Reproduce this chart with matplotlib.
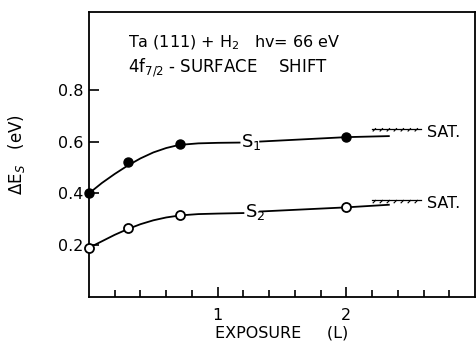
import numpy as np
import matplotlib
matplotlib.use('Agg')
import matplotlib.pyplot as plt
import matplotlib.patheffects as pe

# measured points
x_pts = [0.0, 0.30, 0.71, 2.0]
s1_pts = [0.40, 0.52, 0.59, 0.617]
s2_pts = [0.19, 0.265, 0.315, 0.346]

# hand-drawn guide lines (left part, right part around the label)
s1_cx_a = [0.0, 0.1, 0.2, 0.3, 0.4, 0.5, 0.6, 0.7, 0.85, 1.0, 1.17]
s1_cy_a = [0.40, 0.44, 0.475, 0.507, 0.535, 0.558, 0.575, 0.587, 0.593, 0.595, 0.596]
s1_cx_b = [1.33, 2.0, 2.33]
s1_cy_b = [0.600, 0.617, 0.621]

s2_cx_a = [0.0, 0.1, 0.2, 0.3, 0.4, 0.5, 0.6, 0.71, 0.85, 1.0, 1.2]
s2_cy_a = [0.19, 0.215, 0.24, 0.262, 0.281, 0.296, 0.307, 0.315, 0.320, 0.322, 0.324]
s2_cx_b = [1.33, 2.0, 2.33]
s2_cy_b = [0.330, 0.346, 0.356]

sat_x = [2.2, 2.58]
sat_s1 = 0.65
sat_s2 = 0.373

fig = plt.figure(figsize=(4.76, 3.41), dpi=100)
ax = fig.add_axes([89/476, 44/341, 1 - 89/476 - 0.002, 285/341])

lw = 1.3
for cx, cy in [(s1_cx_a, s1_cy_a), (s1_cx_b, s1_cy_b),
               (s2_cx_a, s2_cy_a), (s2_cx_b, s2_cy_b)]:
    ax.plot(cx, cy, '-', color='black', linewidth=lw, clip_on=False)

ax.plot(x_pts, s1_pts, 'o', color='black', markersize=6.5, clip_on=False, zorder=5)
ax.plot(x_pts, s2_pts, 'o', markerfacecolor='white', markeredgecolor='black',
        markeredgewidth=1.3, markersize=6.5, clip_on=False, zorder=5)

# saturation marks
for yv in [sat_s1, sat_s2]:
    ax.plot(sat_x, [yv, yv], '-', color='black', linewidth=0.9,
            path_effects=[pe.withTickedStroke(angle=-135, length=0.5, spacing=5,
                                              linewidth=0.8)])

fs = 11.5
ax.text(2.63, 0.633, 'SAT.', fontsize=fs, va='center', ha='left')
ax.text(2.63, 0.362, 'SAT.', fontsize=fs, va='center', ha='left')
ax.text(1.18, 0.598, 'S$_1$', fontsize=fs + 1.5, va='center', ha='left')
ax.text(1.21, 0.327, 'S$_2$', fontsize=fs + 1.5, va='center', ha='left')

ax.text(0.3, 0.98, 'Ta (111) + H$_2$   hv= 66 eV', fontsize=fs, va='center')
ax.text(0.3, 0.885, '4f$_{7/2}$ - SURFACE    SHIFT', fontsize=fs + 0.5, va='center')

ax.set_xlim(0, 3.0)
ax.set_ylim(0.0, 1.1)
ax.set_xticks([1, 2])
ax.set_xticks(np.arange(0.2, 3.0, 0.2), minor=True)
ax.set_yticks([0.2, 0.4, 0.6, 0.8])
ax.set_yticklabels(['0.2', '0.4', '0.6', '0.8'])
ax.tick_params(axis='both', direction='in', length=7, width=1.2, labelsize=fs)
ax.tick_params(axis='x', which='minor', direction='in', length=5, width=1.2)
ax.tick_params(axis='x', pad=8)
ax.tick_params(axis='y', pad=4)
for s in ax.spines.values():
    s.set_linewidth(1.3)

ax.set_xlabel('EXPOSURE     (L)', fontsize=fs, labelpad=2)
ax.set_ylabel('$\\Delta$E$_S$   (eV)', fontsize=fs + 0.5, labelpad=22)

fig.savefig('out.png', dpi=100)
